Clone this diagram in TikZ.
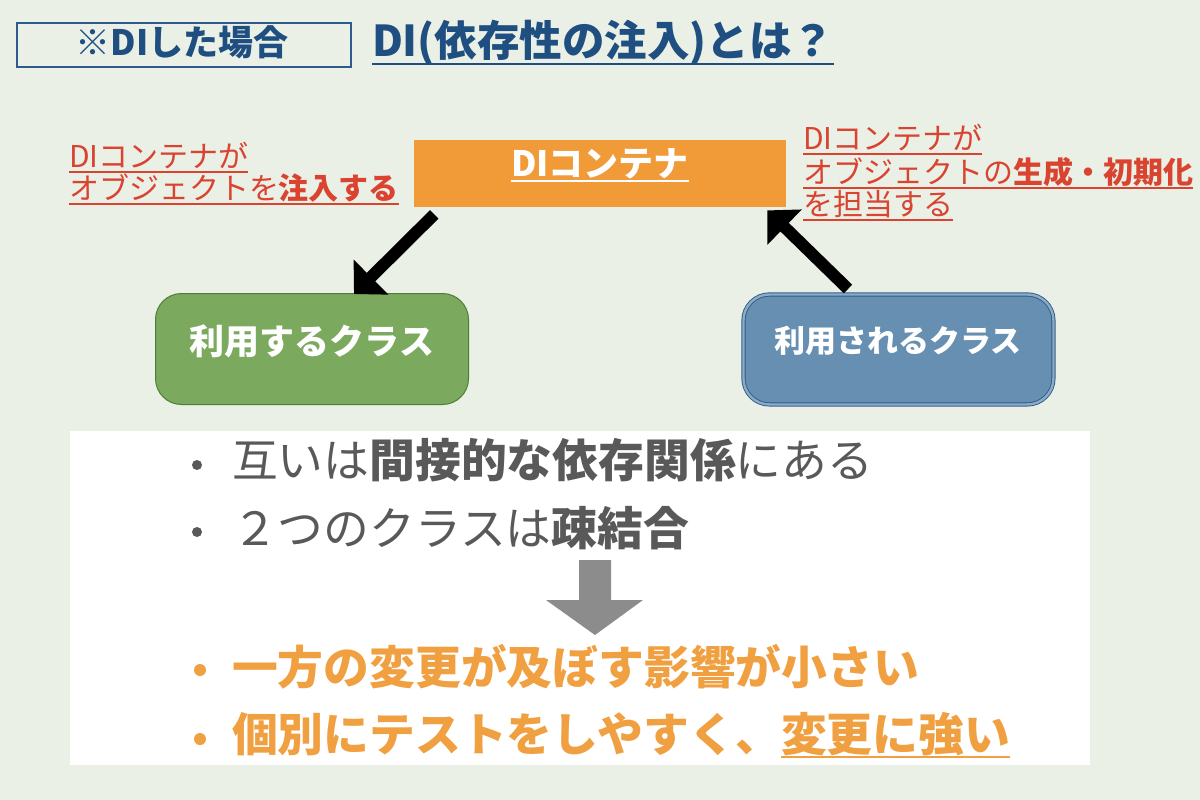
\documentclass[tikz,border=0pt]{standalone}
\usepackage{fontspec}
\setmainfont{Noto Sans CJK JP}
\usetikzlibrary{arrows.meta}
\definecolor{bg}{RGB}{234,240,230}
\definecolor{navy}{RGB}{31,78,128}
\definecolor{boxline}{RGB}{47,90,140}
\definecolor{diorange}{RGB}{240,155,56}
\definecolor{noteRed}{RGB}{217,67,48}
\definecolor{useGreen}{RGB}{123,170,94}
\definecolor{useGreenLine}{RGB}{79,125,56}
\definecolor{usedBlue}{RGB}{102,143,177}
\definecolor{usedBlueLine}{RGB}{46,92,138}
\definecolor{txtGray}{RGB}{89,89,89}
\definecolor{resOrange}{RGB}{240,160,64}
\definecolor{arrGray}{RGB}{140,140,140}
\newcommand\fsz[1]{\fontsize{#1}{#1}\selectfont}
\begin{document}
\begin{tikzpicture}[x=1pt,y=-1pt,
  txt/.style={inner sep=0pt, outer sep=0pt},
  note/.style={txt, anchor=base west, text=noteRed, font=\fsz{30}},
  noteline/.style={noteRed, line width=1.3pt},
  bigarrow/.style={black, line width=12pt, -{Triangle[length=24pt,width=48pt]}},
  dot/.style={circle, fill, inner sep=0pt, outer sep=0pt},
  classbox/.style={rounded corners=26pt, anchor=north west, inner sep=0pt}]
\useasboundingbox (0,0) rectangle (1200,800);
\fill[bg] (0,0) rectangle (1200,800);
% white panel
\fill[white] (70,431) rectangle (1090,765);
% header
\node[draw=boxline, line width=1.6pt, anchor=north west, minimum width=334pt, minimum height=44pt, inner sep=0pt] (casebox) at (16,22) {};
\node[txt, anchor=base, text=navy, font=\fsz{35}\bfseries] (casetxt) at (182,56) {※DIした場合};
\node[txt, anchor=base west, text=navy, font=\fsz{42.5}\bfseries] (title) at (372,57) {DI(依存性の注入)とは？};
\draw[navy, line width=2pt] ([yshift=-7pt]title.base west) -- ([yshift=-7pt]title.base east);
% DI container
\node[fill=diorange, anchor=north west, minimum width=372pt, minimum height=67pt, inner sep=0pt] (di) at (414,140) {};
\node[txt, anchor=base, text=white, font=\fsz{35}\bfseries] (ditxt) at (600,176) {DIコンテナ};
\draw[white, line width=1.8pt] ([yshift=-5pt]ditxt.base west) -- ([yshift=-5pt]ditxt.base east);
% notes left
\node[note] (ln1) at (69,167) {DIコンテナが};
\node[note] (ln2) at (69,199) {オブジェクトを\textbf{注入する}};
\draw[noteline] ([yshift=-5pt]ln1.base west) -- ([yshift=-5pt]ln1.base east);
\draw[noteline] ([yshift=-5pt]ln2.base west) -- ([yshift=-5pt]ln2.base east);
% notes right
\node[note] (rn1) at (803,149) {DIコンテナが};
\node[note] (rn2) at (803,183) {オブジェクトの\textbf{生成・初期化}};
\node[note] (rn3) at (803,215) {を担当する};
\draw[noteline] ([yshift=-5pt]rn1.base west) -- ([yshift=-5pt]rn1.base east);
\draw[noteline] ([yshift=-5pt]rn2.base west) -- ([yshift=-5pt]rn2.base east);
\draw[noteline] ([yshift=-5pt]rn3.base west) -- ([yshift=-5pt]rn3.base east);
% class boxes
\node[classbox, fill=useGreen, draw=useGreenLine, line width=1pt, minimum width=313pt, minimum height=111pt] (use) at (155,293) {};
\node[txt, text=white, font=\fsz{35}\bfseries] (usetxt) at (312,341) {利用するクラス};
\node[classbox, fill=usedBlue, draw=usedBlueLine, line width=0.9pt, double=usedBlue!75!white, double distance=2.4pt, minimum width=310pt, minimum height=110pt] (used) at (743,294) {};
\node[txt, text=white, font=\fsz{31}\bfseries] (usedtxt) at (898,341) {利用されるクラス};
% arrows
\draw[bigarrow] ([xshift=-166pt,yshift=-7pt]di.south) -- ([xshift=199pt,yshift=-1pt]use.north west);
\draw[bigarrow] ([xshift=105pt,yshift=5pt]used.north west) -- ([xshift=-19pt,yshift=-3pt]di.south east);
% bullets
\node[dot, fill=txtGray, minimum size=10pt] (d1) at (197,465) {};
\node[txt, anchor=base west, text=txtGray, font=\fsz{45.8}] (b1) at (232,477) {互いは\textbf{間接的な依存関係}にある};
\node[dot, fill=txtGray, minimum size=10pt] (d2) at (197,532) {};
\node[txt, anchor=base west, text=txtGray, font=\fsz{45.8}] (b2) at (232,545) {２つのクラスは\textbf{疎結合}};
% gray arrow
\fill[arrGray] (579,560) -- (611,560) -- (611,600) -- (643,600) -- (595,635) -- (546,600) -- (579,600) -- cycle;
% results
\node[dot, fill=resOrange, minimum size=12pt] (d3) at (200,670) {};
\node[txt, anchor=base west, text=resOrange, font=\fsz{45.8}\bfseries] (o1) at (232,684) {一方の変更が及ぼす影響が小さい};
\node[dot, fill=resOrange, minimum size=12pt] (d4) at (200,739) {};
\node[txt, anchor=base west, text=resOrange, font=\fsz{45.8}\bfseries] (o2) at (232,751) {個別にテストをしやすく、};
\node[txt, anchor=base west, text=resOrange, font=\fsz{45.8}\bfseries] (o2u) at (o2.base east) {変更に強い};
\draw[resOrange, line width=2pt] ([yshift=-6pt]o2u.base west) -- ([yshift=-6pt]o2u.base east);
\end{tikzpicture}
\end{document}
